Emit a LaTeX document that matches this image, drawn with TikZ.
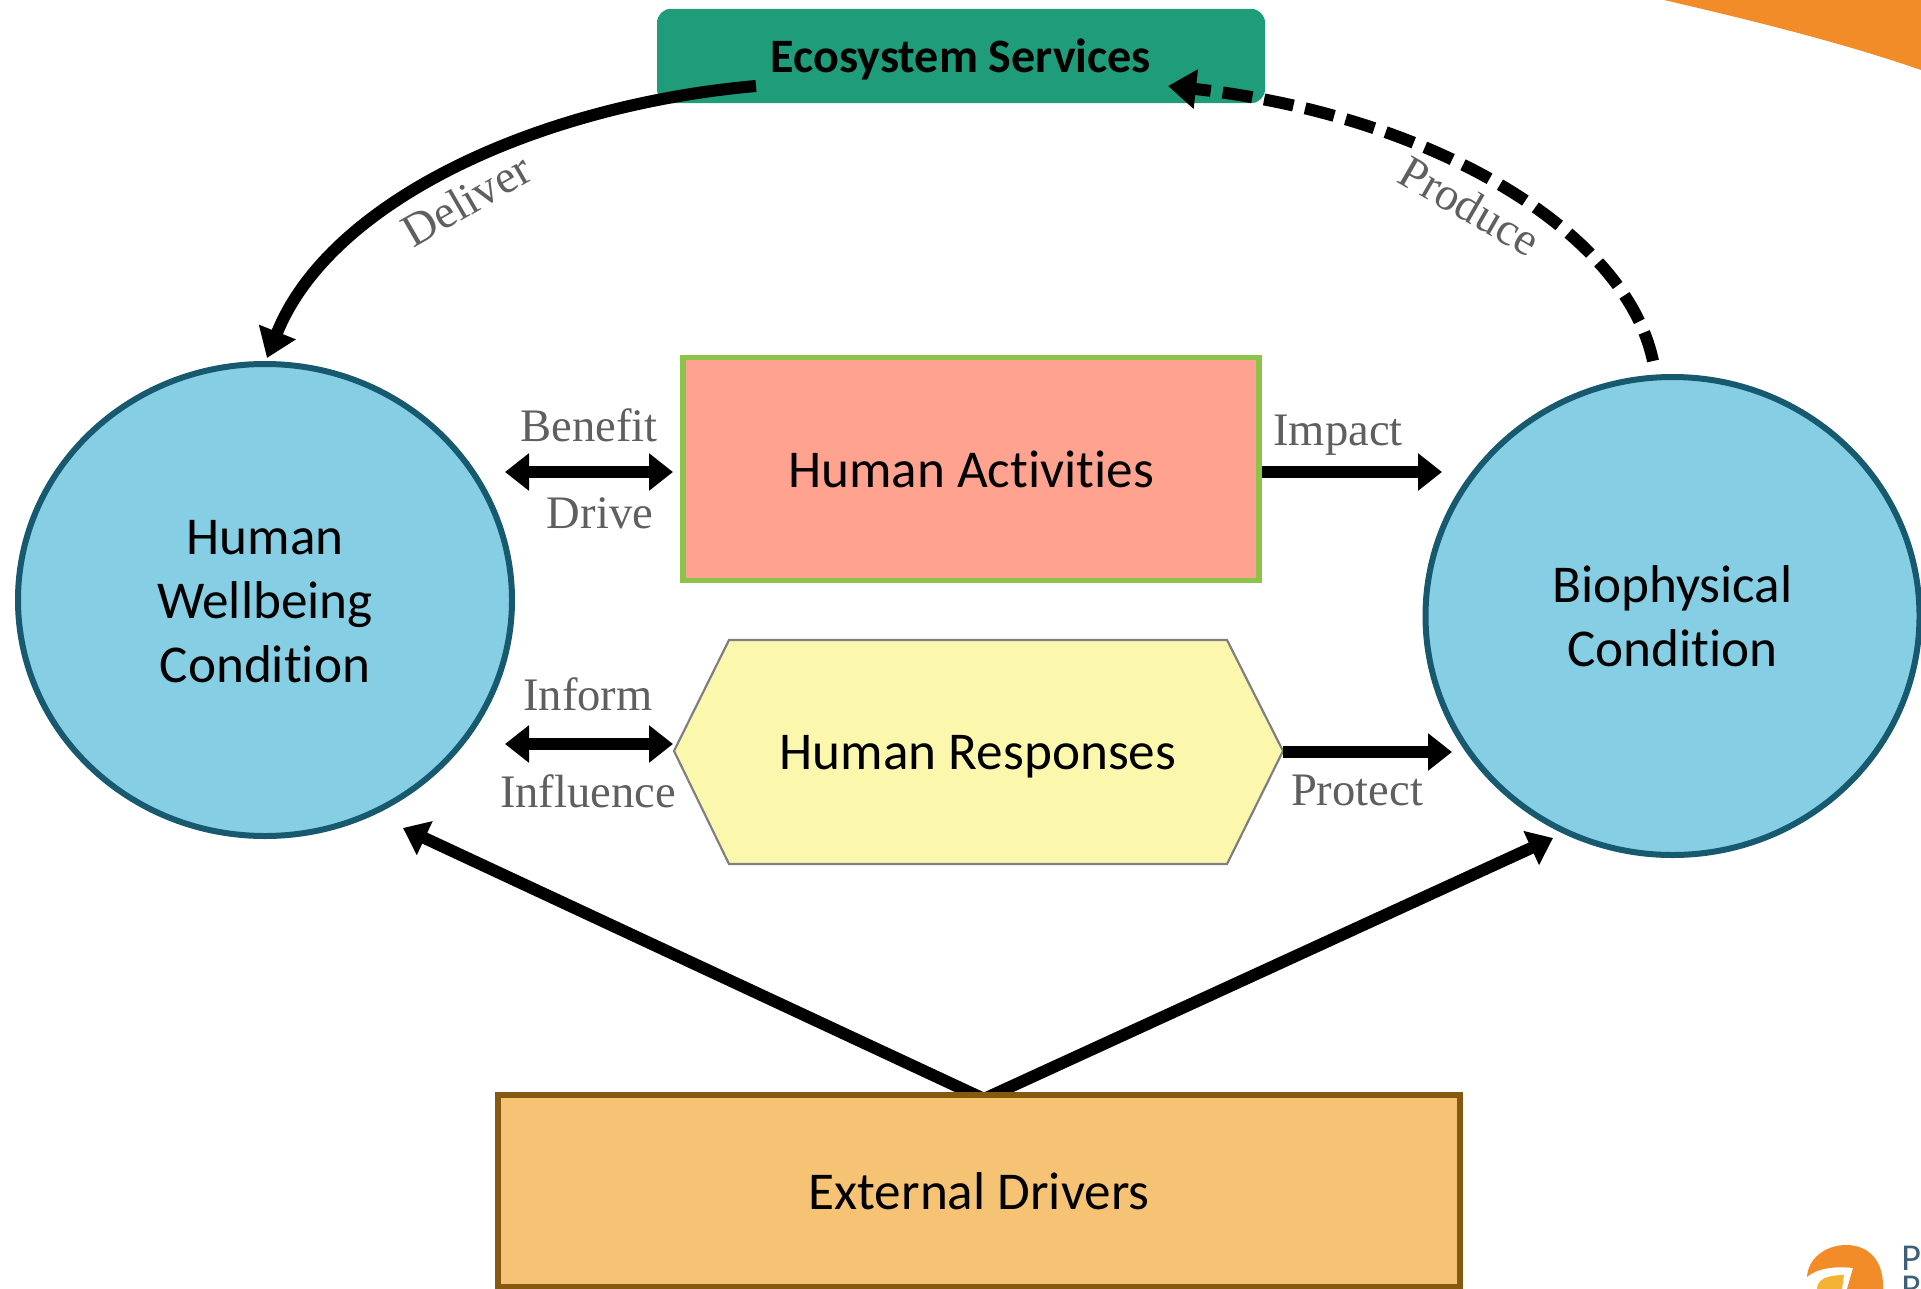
\documentclass[tikz,border=0pt]{standalone}
\usepackage{fontspec}
\setmainfont[Ligatures=NoCommon]{Carlito}
\newfontfamily\lblfont{Liberation Serif}
\usetikzlibrary{arrows.meta,shapes.geometric}
\definecolor{esgreen}{HTML}{1F9C7A}
\definecolor{circfill}{HTML}{85CEE3}
\definecolor{circline}{HTML}{17596E}
\definecolor{actfill}{HTML}{FFA28F}
\definecolor{actline}{HTML}{8CC34B}
\definecolor{resfill}{HTML}{FBF8AE}
\definecolor{extfill}{HTML}{F6C375}
\definecolor{extline}{HTML}{85590F}
\definecolor{lblgray}{HTML}{5F5F5F}
\definecolor{logoorange}{HTML}{F28C28}
\definecolor{logoyellow}{HTML}{F5B335}
\definecolor{logoslate}{HTML}{3F5F78}
\tikzset{
  main/.style={font=\fontsize{26.6}{32}\selectfont, text=black, align=center},
  circ/.style={main, ellipse, draw=circline, fill=circfill, line width=3pt, inner sep=0pt},
  lbl/.style={font=\lblfont\fontsize{23.3}{26}\selectfont, text=lblgray, inner sep=0pt},
  logotext/.style={font=\fontsize{19}{19}\selectfont, text=logoslate, anchor=base west, inner sep=0pt},
  flow/.style={line width=6pt, -{Triangle[length=12pt,width=18pt]}},
  flowboth/.style={line width=6pt, {Triangle[length=12pt,width=18pt]}-{Triangle[length=12pt,width=18pt]}},
  curve/.style={line width=6pt, -{Triangle[length=14pt,width=19pt]}},
}
\begin{document}
\begin{tikzpicture}[x=0.5pt,y=-0.5pt]
\useasboundingbox (0,0) rectangle (1921,1289);
\clip (0,0) rectangle (1921,1289);
% decorative corner and logo
\fill[logoorange] (1664,0) .. controls (1750,20) and (1840,42) .. (1921,70) -- (1921,0) -- cycle;
\fill[logoorange] (1807,1277) .. controls (1808,1258) and (1826,1245) .. (1846,1245) .. controls (1870,1245) and (1884,1262) .. (1883,1289) -- (1847,1289) -- (1853,1268) .. controls (1835,1266) and (1817,1268) .. (1807,1277) -- cycle;
\fill[logoyellow] (1817,1289) .. controls (1817,1280) and (1826,1275) .. (1844,1275) -- (1842,1289) -- cycle;
\node[logotext] (logop) at (1901,1270) {P};
\node[logotext] (logor) at (1901,1300) {R};
% nodes
\node[fill=esgreen, rounded corners=7pt, minimum width=304pt, minimum height=47.2pt, inner sep=0pt] (es) at (961,56) {};
\node[main, font=\bfseries\fontsize{24}{30}\selectfont] (estext) at (961,59) {Ecosystem Services};
\node[circ, minimum width=247pt, minimum height=236pt] (hw) at (265,600) {};
\node[main] (hwtext) at (265,602) {Human\\Wellbeing\\Condition};
\node[circ, minimum width=247pt, minimum height=239pt] (bp) at (1672.5,616) {Biophysical\\Condition};
\node[main, draw=actline, fill=actfill, line width=2.6pt, minimum width=288pt, minimum height=111.5pt, inner sep=0pt] (ha) at (971,469) {Human Activities};
\draw[draw=gray, fill=resfill, line width=1.1pt] (674,751) -- (729,640) -- (1227,640) -- (1283,751) -- (1227,864) -- (729,864) -- cycle;
\node[main] (hr) at (978,757) {Human Responses};
% connector ends
\coordinate (dstart) at (756,86);
\coordinate (dend) at (267,358);
\coordinate (pstart) at (1653,361);
\coordinate (pend) at (1168,86);
\coordinate (ba) at (505,472);
\coordinate (bb) at (673,472);
\coordinate (ia) at (505,744);
\coordinate (ib) at (673,744);
\coordinate (ima) at (1262,472);
\coordinate (imb) at (1442,472);
\coordinate (pra) at (1283,752);
\coordinate (prb) at (1452,752);
\coordinate (ela) at (982,1098);
\coordinate (elb) at (403,828);
\coordinate (era) at (986,1098);
\coordinate (erb) at (1553,838);
% connectors
\draw[curve] (dstart) .. controls (540,105) and (330,200) .. (dend);
\draw[curve, dash pattern=on 15pt off 6pt] (pstart) .. controls (1625,230) and (1430,115) .. (pend);
\draw[flowboth] (ba) -- (bb);
\draw[flowboth] (ia) -- (ib);
\draw[flow] (ima) -- (imb);
\draw[flow] (pra) -- (prb);
\draw[flow] (ela) -- (elb);
\draw[flow] (era) -- (erb);
\node[main, draw=extline, fill=extfill, line width=2.6pt, minimum width=481pt, minimum height=96pt, inner sep=0pt] (ed) at (979,1191) {External Drivers};
% labels
\node[lbl] (lb) at (589,425) {Benefit};
\node[lbl] (ld) at (600,513) {Drive};
\node[lbl] (lim) at (1338,435) {Impact};
\node[lbl] (lif) at (588,694) {Inform};
\node[lbl] (lin) at (588,791) {Influence};
\node[lbl] (lpr) at (1357,790) {Protect};
\node[lbl, rotate=30] (lde) at (466,200) {Deliver};
\node[lbl, rotate=-30] (lpo) at (1470,206) {Produce};
\end{tikzpicture}
\end{document}
